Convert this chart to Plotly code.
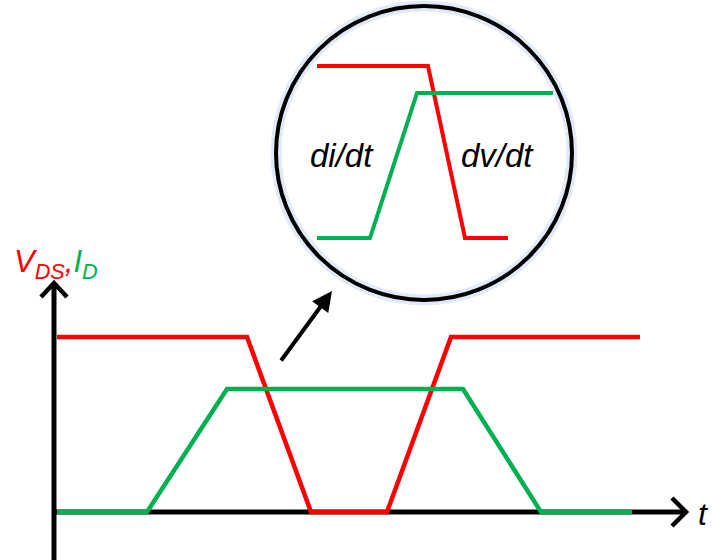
import plotly.graph_objects as go

# Main waveform data (time units, amplitude units; origin at axis crossing)
t_vds = [3, 193, 257, 333, 397, 586]
vds = [175, 175, 0, 0, 175, 175]
t_id = [3, 93, 173, 409, 487, 578]
i_d = [0, 0, 123, 123, 0, 0]

# Zoomed inset data (local units)
t_zoom_v = [0, 111, 148, 191]
v_zoom = [172, 172, 0, 0]
t_zoom_i = [0, 53, 100, 236]
i_zoom = [0, 0, 145, 145]

RED = "#FF0000"
GREEN = "#00B050"
FONT = "Liberation Sans, Arial, sans-serif"

fig = go.Figure()
fig.add_trace(go.Scatter(x=t_vds, y=vds, mode="lines", line=dict(color=RED, width=4.5),
                         xaxis="x", yaxis="y", hoverinfo="skip"))
fig.add_trace(go.Scatter(x=t_id, y=i_d, mode="lines", line=dict(color=GREEN, width=4.5),
                         xaxis="x", yaxis="y", hoverinfo="skip"))
fig.add_trace(go.Scatter(x=t_zoom_v, y=v_zoom, mode="lines", line=dict(color=RED, width=4),
                         xaxis="x2", yaxis="y2", hoverinfo="skip"))
fig.add_trace(go.Scatter(x=t_zoom_i, y=i_zoom, mode="lines", line=dict(color=GREEN, width=4),
                         xaxis="x2", yaxis="y2", hoverinfo="skip"))

shapes = []
# axes lines
shapes.append(dict(type="line", xref="x", yref="y", x0=0, y0=-50, x1=0, y1=228,
                   line=dict(color="black", width=5), layer="below"))
shapes.append(dict(type="line", xref="x", yref="y", x0=0, y0=0, x1=631, y1=0,
                   line=dict(color="black", width=5), layer="below"))
# chevron arrowheads
shapes.append(dict(type="path", xref="x", yref="y", path="M -13,215 L 0,229 L 13,215",
                   line=dict(color="black", width=4.5)))
shapes.append(dict(type="path", xref="x", yref="y", path="M 618,14 L 632,0 L 618,-14",
                   line=dict(color="black", width=4.5)))
# magnifier circle with faint glow
shapes.append(dict(type="circle", xref="x", yref="y", x0=222, x1=518, y0=212, y1=506,
                   line=dict(color="rgba(170,195,230,0.35)", width=11), layer="below"))
shapes.append(dict(type="circle", xref="x", yref="y", x0=222, x1=518, y0=212, y1=506,
                   line=dict(color="black", width=4), layer="below"))

annotations = [
    dict(x=278, y=221, ax=226, ay=150, xref="x", yref="y", axref="x", ayref="y",
         showarrow=True, arrowhead=2, arrowsize=1, arrowwidth=4, arrowcolor="black", text=""),
    dict(x=-42, y=248, xref="x", yref="y", xanchor="left", yanchor="middle", showarrow=False,
         text="<i>V<sub>DS</sub>,</i><span style='color:%s'><i>I<sub>D</sub></i></span>" % GREEN,
         font=dict(family=FONT, size=31, color=RED)),
    dict(x=649, y=-2, xref="x", yref="y", xanchor="center", yanchor="middle", showarrow=False,
         text="<i>t</i>", font=dict(family=FONT, size=32, color="black")),
    dict(x=25, y=83, xref="x2", yref="y2", xanchor="center", yanchor="middle", showarrow=False,
         text="<i>di/dt</i>", font=dict(family=FONT, size=33, color="black")),
    dict(x=180, y=83, xref="x2", yref="y2", xanchor="center", yanchor="middle", showarrow=False,
         text="<i>dv/dt</i>", font=dict(family=FONT, size=33, color="black")),
]

fig.update_layout(
    width=712, height=560,
    margin=dict(l=0, r=0, t=0, b=0),
    paper_bgcolor="white", plot_bgcolor="white",
    showlegend=False,
    xaxis=dict(range=[-54, 658], visible=False, domain=[0, 1], fixedrange=True),
    yaxis=dict(range=[-48, 512], visible=False, domain=[0, 1], fixedrange=True),
    xaxis2=dict(range=[-317, 395], visible=False, overlaying="x", fixedrange=True),
    yaxis2=dict(range=[-322, 238], visible=False, overlaying="y", fixedrange=True),
    shapes=shapes,
    annotations=annotations,
)

# remove the default page margin so the 712x560 figure fills the window exactly
fig.write_html("out.html",
               config={"displayModeBar": False, "staticPlot": True},
               post_script="document.body.style.margin='0';document.body.style.overflow='hidden';")
